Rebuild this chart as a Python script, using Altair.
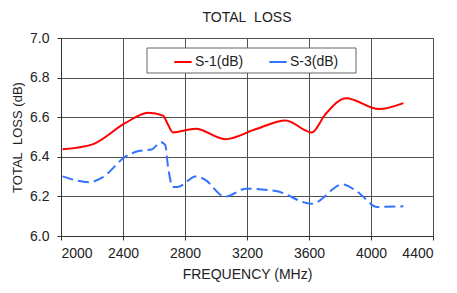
import altair as alt
import pandas as pd

s1_freq = [2010, 2204, 2416, 2563, 2658, 2690, 2722, 2869, 3059, 3259, 3449, 3618, 3703, 3840, 4051, 4209]
s1_val = [6.438, 6.463, 6.571, 6.623, 6.608, 6.563, 6.523, 6.542, 6.489, 6.540, 6.583, 6.523, 6.612, 6.696, 6.641, 6.671]

s3_freq = [2010, 2184, 2268, 2416, 2500, 2584, 2647, 2673, 2690, 2722, 2753, 2869, 2922, 3059, 3196, 3386, 3618, 3818, 3913, 4040, 4209]
s3_val = [6.301, 6.272, 6.296, 6.401, 6.429, 6.437, 6.474, 6.458, 6.353, 6.248, 6.248, 6.301, 6.288, 6.199, 6.239, 6.227, 6.163, 6.261, 6.223, 6.147, 6.150]

x_ticks = [2000, 2400, 2800, 3200, 3600, 4000, 4400]
y_ticks = [6.0, 6.2, 6.4, 6.6, 6.8, 7.0]

series_names = ["S-1(dB)", "S-3(dB)"]
series_colors = ["#ff0000", "#3373ff"]

df1 = pd.DataFrame({"freq": s1_freq, "val": s1_val, "series": series_names[0]})
df3 = pd.DataFrame({"freq": s3_freq, "val": s3_val, "series": series_names[1]})

font = "Liberation Sans"

x_enc = alt.X("freq:Q", scale=alt.Scale(domain=[2000, 4400], nice=False),
              axis=alt.Axis(values=x_ticks, title="FREQUENCY (MHz)",
                            format="d", labelPadding=6, titlePadding=7))
y_enc = alt.Y("val:Q", scale=alt.Scale(domain=[6.0, 7.0], nice=False, zero=False),
              axis=alt.Axis(values=y_ticks, format=".1f", labelPadding=8,
                            title="TOTAL\u00a0 LOSS (dB)", titlePadding=5, titleFontSize=13))
color_enc = alt.Color("series:N", scale=alt.Scale(domain=series_names, range=series_colors),
                      legend=alt.Legend(title=None, orient="none", legendX=86, legendY=10,
                                        direction="horizontal", symbolType="stroke",
                                        symbolSize=300, symbolStrokeWidth=2,
                                        symbolOffset=22, labelOffset=2,
                                        padding=4, columnPadding=2, labelFontSize=14,
                                        labelFont=font, labelColor="#222222"))

# legend frame (decoration only)
frame = alt.Chart(pd.DataFrame({"k": [0]})).mark_rect(
    fill="white", stroke="#666666", strokeWidth=1
).encode(x=alt.value(86), x2=alt.value(295), y=alt.value(10), y2=alt.value(35))

line1 = alt.Chart(df1).mark_line(interpolate="monotone", strokeWidth=2).encode(
    x=x_enc, y=y_enc, color=color_enc)
line3 = alt.Chart(df3).mark_line(interpolate="monotone", strokeWidth=2, strokeDash=[11, 5]).encode(
    x=x_enc, y=y_enc, color=color_enc)

chart = alt.layer(frame, line1, line3).properties(
    width=372, height=198,
    title=alt.TitleParams("TOTAL\u00a0 LOSS", font=font, fontSize=14, fontWeight="normal", color="#222222", offset=6),
    autosize=alt.AutoSizeParams(type="none"),
    padding={"left": 53, "top": 30, "right": 16, "bottom": 47},
).configure_view(
    stroke="#333333", strokeWidth=1
).configure_axis(
    grid=True, gridColor="#505050", gridWidth=1, gridOpacity=1,
    domain=True, domainColor="#333333",
    ticks=True, tickColor="#333333", tickSize=4,
    labelFont=font, labelFontSize=14, labelColor="#222222",
    titleFont=font, titleFontSize=14, titleFontWeight="normal", titleColor="#222222",
)

chart.save("out.html", embed_options={"renderer": "svg", "actions": False})
